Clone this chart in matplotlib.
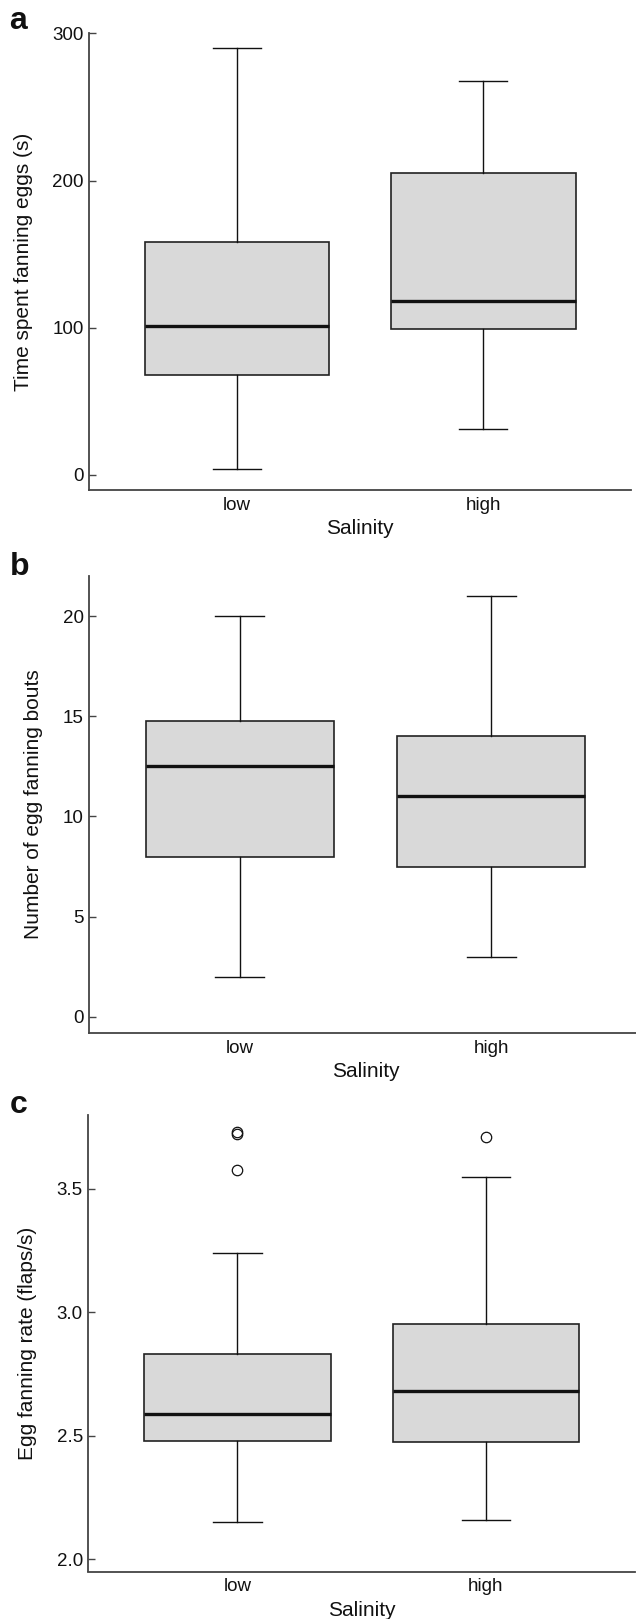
import matplotlib
matplotlib.use("Agg")
import matplotlib.pyplot as plt

plt.rcParams['font.family'] = ['Liberation Sans', 'DejaVu Sans']

groups = ['low', 'high']

# panel a: time spent fanning eggs (s)  -> whislo, q1, med, q3, whishi
time_low = [4, 68, 101.5, 158, 290]
time_high = [31, 99, 118.5, 205, 268]

# panel b: number of egg fanning bouts
bouts_low = [2, 8, 12.5, 14.75, 20]
bouts_high = [3, 7.5, 11, 14, 21]

# panel c: egg fanning rate (flaps/s)
rate_low = [2.15, 2.478, 2.59, 2.83, 3.24]
rate_high = [2.16, 2.475, 2.68, 2.954, 3.55]
rate_low_out = [3.731, 3.721, 3.577]
rate_high_out = [3.711]

W, H = 636, 1619
fig = plt.figure(figsize=(W / 100, H / 100), dpi=100)


def make_stats(v, fl=()):
    return {'whislo': v[0], 'q1': v[1], 'med': v[2], 'q3': v[3], 'whishi': v[4],
            'fliers': list(fl), 'label': ''}


def panel(rect_px, letter, letter_xy, stats, ylim, yticks, yticklabels, ylabel, ylab_x):
    x0, y0, x1, y1 = rect_px
    ax = fig.add_axes([x0 / W, 1 - y1 / H, (x1 - x0) / W, (y1 - y0) / H])
    ax.bxp(stats, positions=[1, 2], widths=0.75, patch_artist=True, capwidths=0.195,
           boxprops=dict(facecolor='#d9d9d9', edgecolor='#222222', linewidth=1.2),
           medianprops=dict(color='#111111', linewidth=2.4, solid_capstyle='butt'),
           whiskerprops=dict(color='#111111', linewidth=1.0),
           capprops=dict(color='#111111', linewidth=1.0),
           flierprops=dict(marker='o', markersize=7.5, markerfacecolor='none',
                           markeredgecolor='#111111', markeredgewidth=0.9))
    ax.set_xlim(0.4, 2.6)
    ax.set_ylim(*ylim)
    ax.set_yticks(yticks)
    ax.set_yticklabels(yticklabels)
    ax.set_xticks([1, 2])
    ax.set_xticklabels(groups)
    for s in ['top', 'right']:
        ax.spines[s].set_visible(False)
    for s in ['left', 'bottom']:
        ax.spines[s].set_color('#444444')
        ax.spines[s].set_linewidth(1.3)
    ax.tick_params(axis='y', direction='in', length=4.7, width=1.0, color='#444444',
                   labelsize=13.5, pad=4, labelcolor='#111111')
    ax.tick_params(axis='x', length=0, labelsize=13.5, pad=5, labelcolor='#111111')
    ax.set_xlabel('Salinity', fontsize=15, labelpad=4, color='#111111')
    ax.set_ylabel(ylabel, fontsize=15, color='#111111')
    ax.yaxis.set_label_coords((ylab_x - x0) / (x1 - x0), 0.5)
    fig.text(letter_xy[0] / W, 1 - letter_xy[1] / H, letter, fontsize=23,
             fontweight='bold', va='baseline', ha='left', color='#111111')
    return ax


panel((89.2, 33.4, 631, 489.7), 'a', (9, 29),
      [make_stats(time_low), make_stats(time_high)],
      (-10, 300), [0, 100, 200, 300], ['0', '100', '200', '300'],
      'Time spent fanning eggs (s)', 33.5)

panel((89.2, 576.2, 641.8, 1032.7), 'b', (10, 575),
      [make_stats(bouts_low), make_stats(bouts_high)],
      (-0.8, 22.0), [0, 5, 10, 15, 20], ['0', '5', '10', '15', '20'],
      'Number of egg fanning bouts', 43.5)

panel((88.4, 1115.5, 635, 1571.5), 'c', (10, 1112.7),
      [make_stats(rate_low, rate_low_out), make_stats(rate_high, rate_high_out)],
      (1.951, 3.797), [2.0, 2.5, 3.0, 3.5], ['2.0', '2.5', '3.0', '3.5'],
      'Egg fanning rate (flaps/s)', 37.5)

fig.savefig('out.png', dpi=100)
